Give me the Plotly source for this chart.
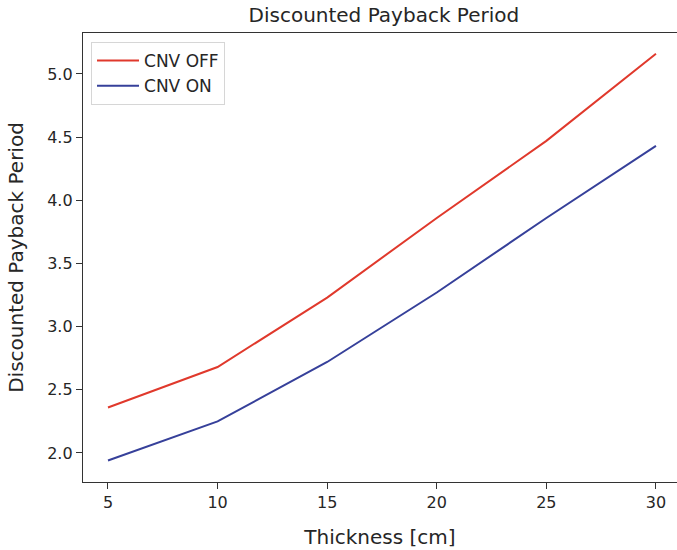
import plotly.graph_objects as go

# Insulation thickness (cm) and discounted payback period (years)
thickness = [5, 10, 15, 20, 25, 30]
payback_cnv_off = [2.36, 2.68, 3.23, 3.86, 4.47, 5.16]
payback_cnv_on = [1.94, 2.25, 2.72, 3.27, 3.86, 4.43]
x_ticks = [5, 10, 15, 20, 25, 30]
y_ticks = [2.0, 2.5, 3.0, 3.5, 4.0, 4.5, 5.0]

RED = "#e0392c"
BLUE = "#36409a"
TEXT = "#262626"
FONT = "DejaVu Sans"

fig = go.Figure()
fig.add_trace(go.Scatter(x=thickness, y=payback_cnv_off, mode="lines",
                         name="CNV OFF", line=dict(color=RED, width=2)))
fig.add_trace(go.Scatter(x=thickness, y=payback_cnv_on, mode="lines",
                         name="CNV ON", line=dict(color=BLUE, width=2)))

fig.update_layout(
    width=677, height=550,
    margin=dict(l=83, r=0, t=33, b=68),
    paper_bgcolor="white", plot_bgcolor="white",
    font=dict(family=FONT, color=TEXT, size=16),
    title=dict(text="Discounted Payback Period", x=0.567, xanchor="center",
               y=0.972, yanchor="middle", font=dict(size=20, color=TEXT)),
    showlegend=True,
    legend=dict(x=0.0135, y=0.98, xanchor="left", yanchor="top",
                bgcolor="rgba(255,255,255,0.9)", bordercolor="#d6d6d6",
                borderwidth=1, font=dict(size=17, color=TEXT),
                itemwidth=42, tracegroupgap=0),
)

fig.update_xaxes(
    range=[3.86, 30.96], tickvals=x_ticks, ticks="outside", ticklen=6,
    tickcolor="#333", tickfont=dict(size=16), showgrid=False, zeroline=False,
    showline=True, linecolor="#333", linewidth=1.3, mirror=True,
    title=dict(text="Thickness [cm]", font=dict(size=20), standoff=18),
)
fig.update_yaxes(
    range=[1.77, 5.324], tickvals=y_ticks, tickformat=".1f", ticks="outside",
    ticklen=6, tickcolor="#333", tickfont=dict(size=16), showgrid=False,
    zeroline=False, showline=True, linecolor="#333", linewidth=1.3,
    title=dict(text="Discounted Payback Period", font=dict(size=20), standoff=18),
)

fig.write_html("out.html")
